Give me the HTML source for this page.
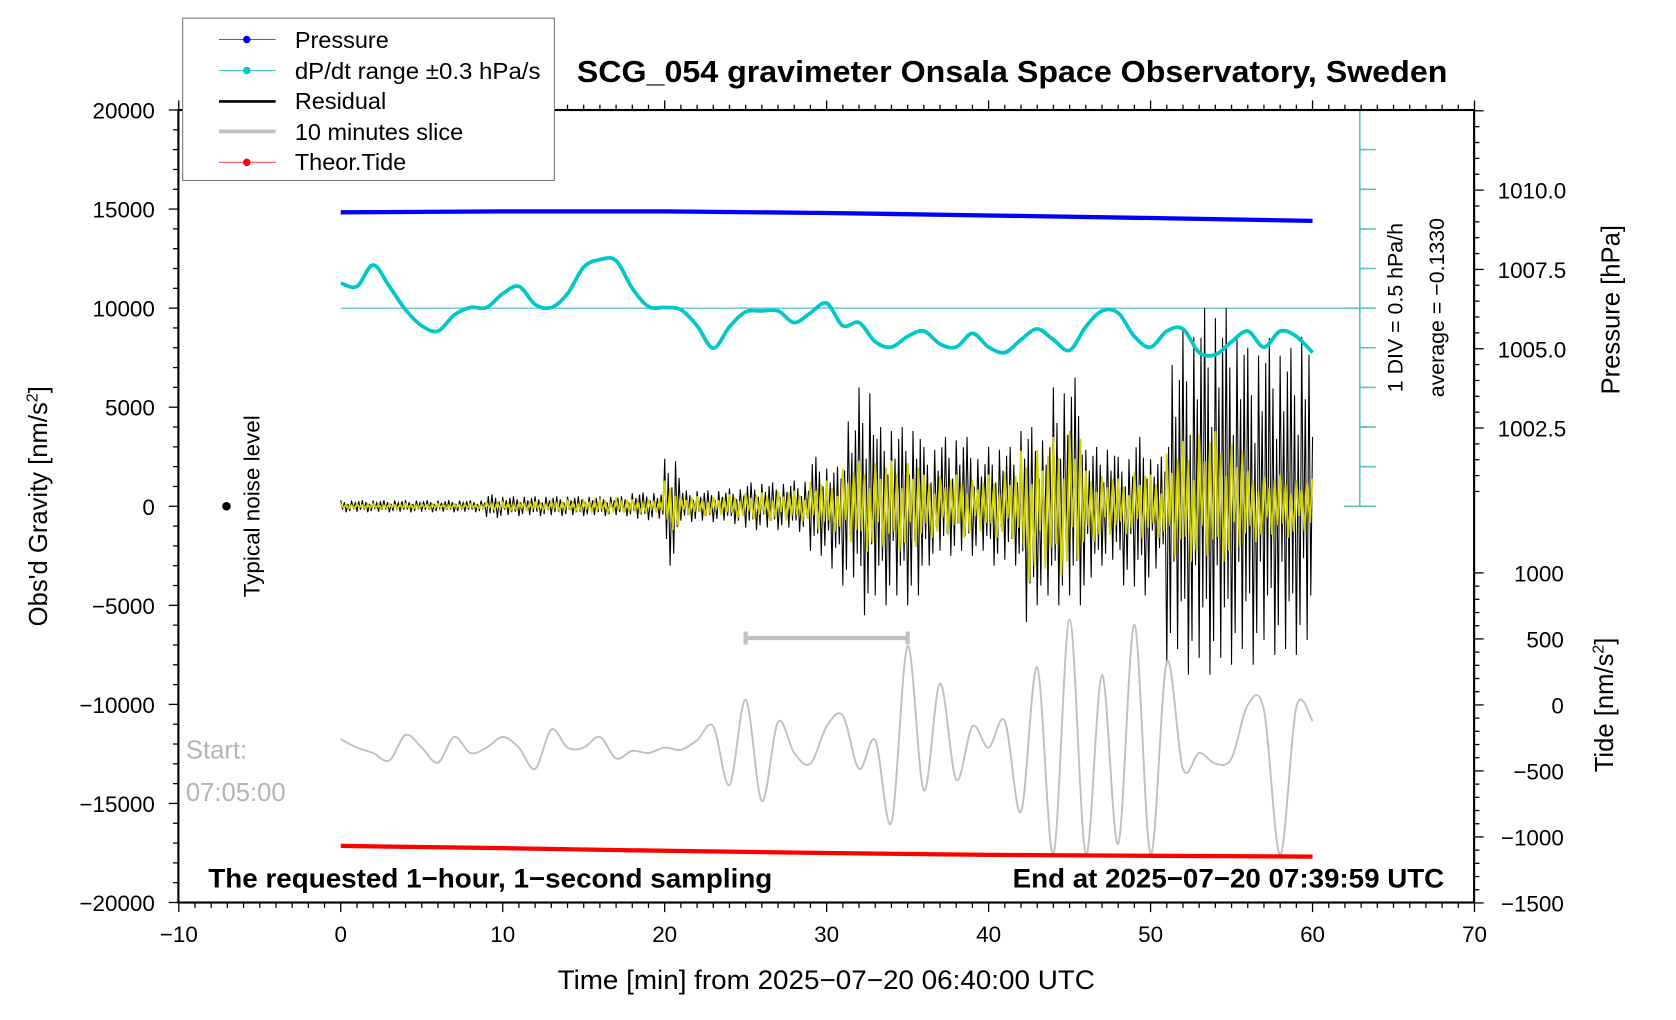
<!DOCTYPE html>
<html><head><meta charset="utf-8"><style>
html,body{margin:0;padding:0;background:#fff;}
svg{display:block;font-family:"Liberation Sans",sans-serif;}
</style></head><body>
<svg id="chart" width="1676" height="1020" viewBox="0 0 1569 955" preserveAspectRatio="none" xmlns="http://www.w3.org/2000/svg">
<g id="marks"></g>
<g id="axes"></g>
<rect x="167" y="103" width="1213" height="742" fill="none" stroke="#000" stroke-width="2"/>
<text x="540" y="77" font-size="29" font-weight="bold" textLength="815" lengthAdjust="spacingAndGlyphs">SCG_054 gravimeter Onsala Space Observatory, Sweden</text>
<text x="522" y="926" font-size="25" textLength="503" lengthAdjust="spacingAndGlyphs">Time [min] from 2025−07−20 06:40:00 UTC</text>
<text transform="translate(44,474) rotate(-90)" font-size="24" text-anchor="middle">Obs'd Gravity [nm/s<tspan font-size="15" dy="-9">2</tspan><tspan dy="9">]</tspan></text>
<text transform="translate(1516,290) rotate(-90)" font-size="24" text-anchor="middle">Pressure [hPa]</text>
<text transform="translate(1510,660) rotate(-90)" font-size="24" text-anchor="middle">Tide [nm/s<tspan font-size="15" dy="-9">2</tspan><tspan dy="9">]</tspan></text>
<text transform="translate(1313,288) rotate(-90)" font-size="20" text-anchor="middle">1 DIV = 0.5 hPa/h</text>
<text transform="translate(1352,288) rotate(-90)" font-size="20" text-anchor="middle">average = −0.1330</text>
<circle cx="212" cy="474" r="4" fill="#000"/>
<text transform="translate(243,474) rotate(-90)" font-size="21" text-anchor="middle">Typical noise level</text>
<text x="174" y="710" font-size="24" fill="#b4b4b4">Start:</text>
<text x="174" y="750" font-size="24" fill="#b4b4b4">07:05:00</text>
<text x="195" y="831" font-size="25" font-weight="bold" textLength="528" lengthAdjust="spacingAndGlyphs">The requested 1−hour, 1−second sampling</text>
<text x="948" y="831" font-size="25" font-weight="bold" textLength="404" lengthAdjust="spacingAndGlyphs">End at 2025−07−20 07:39:59 UTC</text>
<g>
<rect x="171" y="17" width="348" height="152" fill="#fff" stroke="#777" stroke-width="1"/>
<g><line x1="205" y1="37" x2="258" y2="37" stroke="#5050ff" stroke-width="1"/><circle cx="231" cy="37" r="3.5" fill="#0000ff"/><text x="276" y="45" font-size="22">Pressure</text></g>
<g><line x1="205" y1="66" x2="258" y2="66" stroke="#40c8c8" stroke-width="1"/><circle cx="231" cy="66" r="3.5" fill="#00c8c8"/><text x="276" y="74" font-size="22" textLength="230" lengthAdjust="spacingAndGlyphs">dP/dt range ±0.3 hPa/s</text></g>
<g><line x1="205" y1="95" x2="258" y2="95" stroke="#000" stroke-width="2.5"/><text x="276" y="102" font-size="22">Residual</text></g>
<g><line x1="205" y1="123" x2="258" y2="123" stroke="#c0c0c0" stroke-width="3.5"/><text x="276" y="131" font-size="22">10 minutes slice</text></g>
<g><line x1="205" y1="152" x2="258" y2="152" stroke="#ff5050" stroke-width="1"/><circle cx="231" cy="152" r="3.5" fill="#ff0000"/><text x="276" y="159" font-size="22">Theor.Tide</text></g>
</g>
</svg>
<script>
// ---- data ----
const minutes = [0,1,2,3,4,5,6,7,8,9,10,11,12,13,14,15,16,17,18,19,20,21,22,23,24,25,26,27,28,29,30,31,32,33,34,35,36,37,38,39,40,41,42,43,44,45,46,47,48,49,50,51,52,53,54,55,56,57,58,59,60];
const pressureTimes = [0,10,20,30,40,50,60];
const pressureValues = [1009.3,1009.33,1009.33,1009.28,1009.2,1009.12,1009.03];
const tideTimes = [0,10,20,30,40,50,60];
const tideValues = [-1068,-1085,-1105,-1122,-1136,-1143,-1149];
const dpdtValues = [11265,11100,12180,11100,9920,9110,8840,9650,10030,10030,10730,11100,10190,10030,10730,12070,12450,12400,11000,10080,10030,9920,9110,7980,9060,9810,9860,9860,9270,9760,10250,9110,9270,8300,8030,8570,8840,8190,8030,8730,8030,7760,8410,8950,8410,7870,9060,9860,9760,8570,8030,8840,8950,7760,7650,8300,8840,8030,8840,8570,7760];
const residualMax = [300,300,300,300,300,300,300,300,300,600,500,500,500,500,500,500,500,500,700,700,2400,800,800,800,900,1200,1200,1200,1300,2500,2000,4500,6000,4000,4000,4000,3000,3500,3500,2500,3000,3000,4000,3500,6000,6500,3000,3000,2500,3500,2500,7500,9000,10000,10000,9000,8000,8500,8000,9000,3500];
const residualMin = [-300,-300,-300,-300,-300,-300,-300,-300,-300,-600,-500,-500,-500,-500,-500,-500,-500,-500,-700,-700,-3000,-800,-800,-800,-900,-1200,-1200,-1200,-1300,-2500,-3500,-4000,-5500,-5000,-5000,-5000,-3000,-2500,-2500,-2500,-3000,-3000,-6500,-5000,-5000,-5000,-4000,-3000,-4000,-4500,-3500,-8000,-8500,-8500,-8500,-8000,-8000,-7500,-8000,-7500,-2500];
const filteredMax = [120,120,120,120,120,120,120,120,120,200,200,200,200,250,250,300,300,350,350,350,1300,500,500,500,600,700,700,800,800,1300,1300,2000,2300,2300,2300,2300,1600,1600,1600,1400,1600,1800,2800,3000,3500,4000,1800,1600,1400,1800,1600,2800,3300,3800,3800,3300,1800,1600,1600,1400,1400];
const filteredMin = [-120,-120,-120,-120,-120,-120,-120,-120,-120,-200,-200,-200,-200,-250,-250,-300,-300,-350,-350,-350,-1200,-500,-500,-500,-600,-700,-700,-800,-800,-1300,-1300,-2000,-2300,-2300,-2300,-2300,-1600,-1600,-1600,-1400,-1600,-1800,-3800,-3500,-3500,-3000,-1800,-1600,-1400,-1800,-1600,-2800,-2800,-2800,-2800,-2300,-1800,-1600,-1600,-1400,-1400];
const sliceValues = [-259,-324,-364,-421,-227,-324,-437,-243,-364,-324,-243,-324,-485,-186,-324,-324,-243,-405,-348,-364,-324,-340,-267,-162,-607,40,-728,-129,-364,-445,-162,-81,-485,-267,-890,445,-647,162,-566,-162,-324,-121,-809,283,-1133,647,-1133,227,-1052,607,-1133,324,-485,-364,-445,-405,0,-40,-1133,-16,-121];
const sliceBarStart = 25, sliceBarEnd = 35, sliceBarLevel = -6650;
const xTicks = [-10,0,10,20,30,40,50,60,70];
const yTicks = [20000,15000,10000,5000,0,-5000,-10000,-15000,-20000];
const pressureTicks = [1010.0,1007.5,1005.0,1002.5];
const tideTicks = [1000,500,0,-500,-1000,-1500];

// ---- scales ----
const X = m => 319 + (m - 0) * 15.1625;
const Y = v => 474 - v * 0.01855;
const P = p => 178 + (1010 - p) * 29.7;
const T = t => 660 - t * 0.1236;
const NS = "http://www.w3.org/2000/svg";
const marks = document.getElementById('marks');
const axes = document.getElementById('axes');
function mk(tag, attrs, parent) { const e = document.createElementNS(NS, tag); for (const k in attrs) e.setAttribute(k, attrs[k]); parent.appendChild(e); return e; }
function fmt(v){ return (v<0?'−':'')+Math.abs(v); }

let el = mk('line', {x1:X(0), x2:1288, y1:Y(10000), y2:Y(10000), stroke:'#60c8c8', 'stroke-width':1.3}, marks);


const sb = mk('g', {stroke:'#60c0c0','stroke-width':1.5}, marks);


mk('line', {x1:1273,x2:1273,y1:103,y2:474}, sb);
for (let i=0;i<=10;i++){ const yy=103+i*37.1; const w=(i===0||i===5||i===10)?15:0; mk('line',{x1:1273-w,x2:1288,y1:yy,y2:yy},sb); if(w===0) mk('line',{x1:1273,x2:1281,y1:yy,y2:yy},sb); }

const pat = [1,-0.55,0.7,-1,0.4,-0.8,0.95,-0.35,0.6,-0.9,0.85,-0.6];
function zig(maxA, minA, steps){
  let d='', k=0;
  for (let i=0;i<minutes.length-1;i++){
    for (let s=0;s<steps;s++){
      const m = minutes[i] + s/steps;
      const f = pat[k%pat.length]; k++;
      const v = f>0 ? f*maxA[i] : -f*minA[i];
      d += (d?'L':'M') + X(m).toFixed(1) + ',' + Y(v).toFixed(1);
    }
  }
  d += 'L'+X(60)+','+Y(maxA[60]);
  return d;
}
el = mk('path', {d:zig(residualMax, residualMin, 9), fill:'none', stroke:'#000', 'stroke-width':1}, marks);


el = mk('path', {d:zig(filteredMax, filteredMin, 6), fill:'none', stroke:'#d2d200', 'stroke-width':1.7}, marks);



function smooth(pts){ let d='M'+pts[0][0]+','+pts[0][1]; for(let i=0;i<pts.length-1;i++){ const p0=pts[Math.max(0,i-1)],p1=pts[i],p2=pts[i+1],p3=pts[Math.min(pts.length-1,i+2)]; const c1=[p1[0]+(p2[0]-p0[0])/6,p1[1]+(p2[1]-p0[1])/6], c2=[p2[0]-(p3[0]-p1[0])/6,p2[1]-(p3[1]-p1[1])/6]; d+='C'+c1[0].toFixed(1)+','+c1[1].toFixed(1)+' '+c2[0].toFixed(1)+','+c2[1].toFixed(1)+' '+p2[0].toFixed(1)+','+p2[1].toFixed(1);} return d; }

el = mk('path', {d:smooth(minutes.map((m,i)=>[X(m),Y(dpdtValues[i])])), fill:'none', stroke:'#00c8c8', 'stroke-width':3.5}, marks);


el = mk('path', {d:smooth(minutes.map((m,i)=>[X(m),T(sliceValues[i])])), fill:'none', stroke:'#c0c0c0', 'stroke-width':1.8}, marks);


const bar = mk('g', {stroke:'#c0c0c0','stroke-width':4}, marks);


mk('line',{x1:X(sliceBarStart),x2:X(sliceBarEnd),y1:Y(sliceBarLevel),y2:Y(sliceBarLevel)},bar);
mk('line',{x1:X(sliceBarStart),x2:X(sliceBarStart),y1:Y(sliceBarLevel)-6,y2:Y(sliceBarLevel)+6},bar);
mk('line',{x1:X(sliceBarEnd),x2:X(sliceBarEnd),y1:Y(sliceBarLevel)-6,y2:Y(sliceBarLevel)+6},bar);
el = mk('polyline', {points:pressureTimes.map((t,i)=>X(t)+','+P(pressureValues[i])).join(' '), fill:'none', stroke:'#0000ff', 'stroke-width':4}, marks);


el = mk('polyline', {points:tideTimes.map((t,i)=>X(t)+','+T(tideValues[i])).join(' '), fill:'none', stroke:'#ff0000', 'stroke-width':4}, marks);



const tg = mk('g', {stroke:'#000','stroke-width':1.2}, axes);
for (let m=-10;m<=70;m++){ const big = m%10===0; const l=big?9:5; mk('line',{x1:X(m),x2:X(m),y1:845,y2:845+l},tg); mk('line',{x1:X(m),x2:X(m),y1:103,y2:103-l},tg); }
for (let v=-20000; v<=20000; v+=1000){ const big=v%5000===0; mk('line',{x1:167,x2:167-(big?9:5),y1:Y(v),y2:Y(v)},tg); }
for (let p=1012.5; p>=1000.5; p-=0.5){ const yy=P(p); if(yy<103||yy>474) continue; const big=Math.abs((p-1000)%2.5)<1e-6; mk('line',{x1:1380,x2:1380+(big?9:5),y1:yy,y2:yy},tg); }
for (let t=1000; t>=-1500; t-=100){ const big=t%500===0; mk('line',{x1:1380,x2:1380+(big?9:5),y1:T(t),y2:T(t)},tg); }
xTicks.forEach(m=>{ const e=mk('text',{x:X(m),y:882,'font-size':21,'text-anchor':'middle'},axes); e.textContent=fmt(m);
   });
yTicks.forEach(v=>{ const e=mk('text',{x:145,y:Y(v)+8,'font-size':21,'text-anchor':'end'},axes); e.textContent=fmt(v);
   });
pressureTicks.forEach(p=>{ const e=mk('text',{x:1402,y:P(p)+8,'font-size':21},axes); e.textContent=p.toFixed(1);
   });
tideTicks.forEach(t=>{ const e=mk('text',{x:1464,y:T(t)+8,'font-size':21,'text-anchor':'end'},axes); e.textContent=fmt(t);
   });
</script>
</body></html>
